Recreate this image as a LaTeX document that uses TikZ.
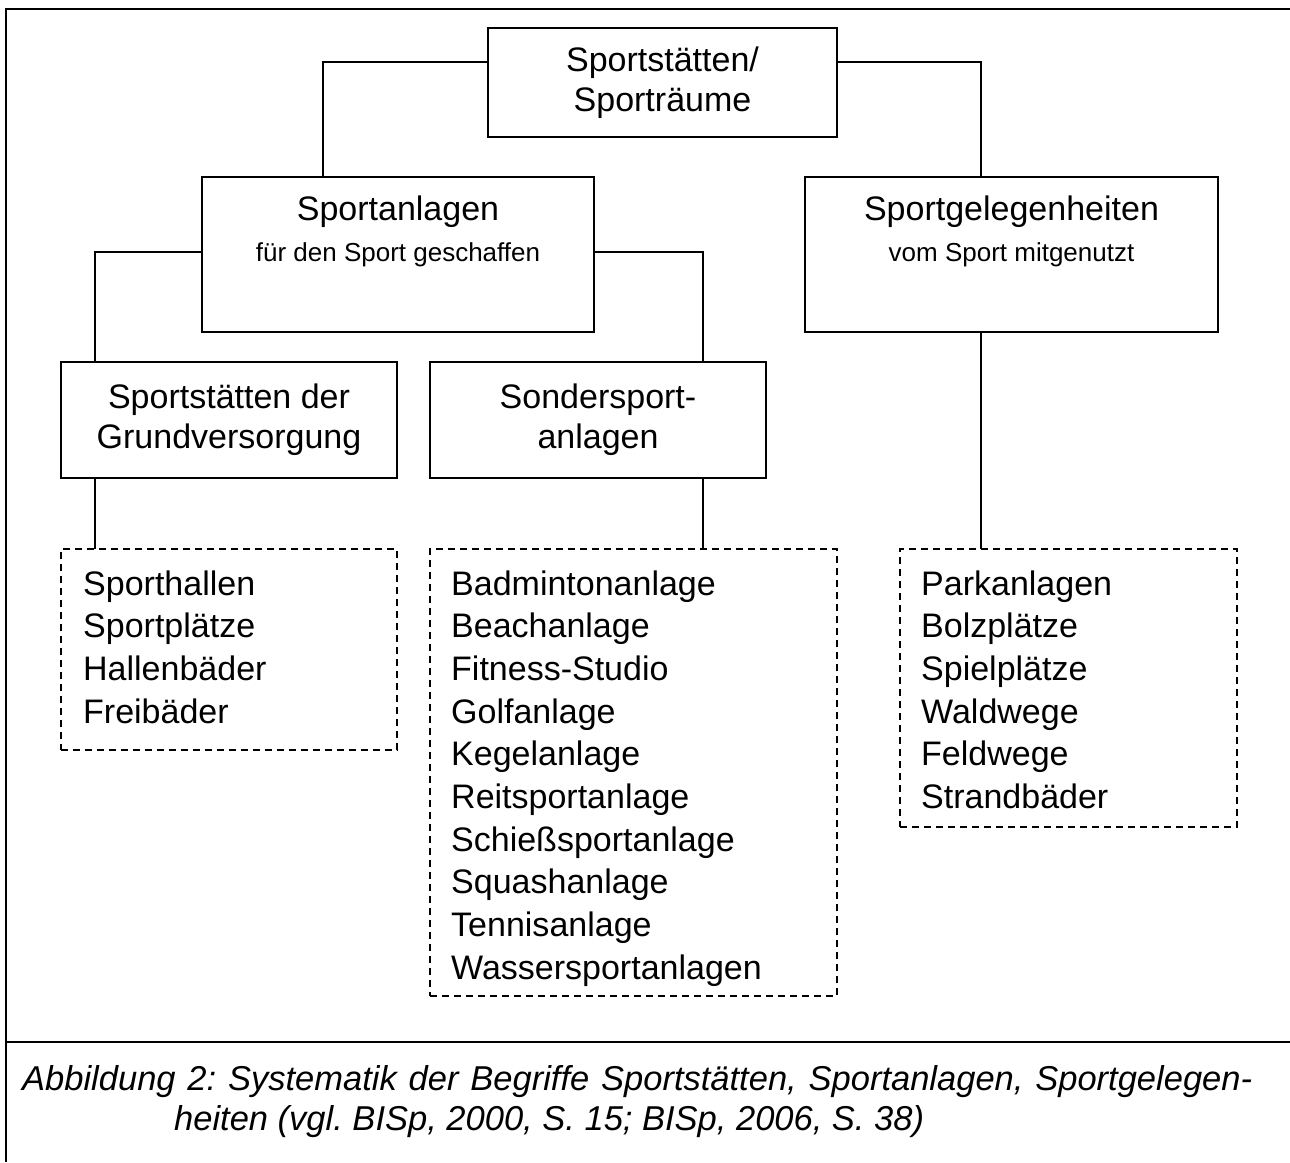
\documentclass[tikz,border=0pt]{standalone}
\usepackage{fontspec}
\setmainfont{Liberation Sans}
\frenchspacing
\begin{document}
\begin{tikzpicture}[x=1pt,y=-1pt,
  box/.style={draw, line width=1.3pt, inner sep=0pt, outer sep=0pt},
  dbox/.style={draw, line width=1.3pt, dash pattern=on 7pt off 5pt, inner sep=0pt, outer sep=0pt},
  conn/.style={draw, line width=1.3pt},
  framestyle/.style={draw, line width=2pt},
  big/.style={font=\fontsize{34}{40}\selectfont, align=center, inner sep=0pt},
  small/.style={font=\fontsize{26}{30}\selectfont, inner sep=0pt},
  item/.style={font=\fontsize{34}{42.7}\selectfont, inner sep=0pt, anchor=base west},
  captext/.style={font=\fontsize{34.5}{42}\selectfont\itshape, inner sep=0pt, anchor=base west}]
\useasboundingbox (0,0) rectangle (1290,1162);
% frame
\draw[framestyle] (1290,9) -- (6,9) -- (6,1162);
\draw[framestyle] (6,1042) -- (1290,1042);
% boxes
\node[box, minimum width=349pt, minimum height=109pt] (top) at (662.5,82.5) {};
\node[box, minimum width=392pt, minimum height=155pt] (sa) at (398,254.5) {};
\node[box, minimum width=413pt, minimum height=155pt] (sg) at (1011.5,254.5) {};
\node[box, minimum width=336pt, minimum height=116pt] (g) at (229,420) {};
\node[box, minimum width=336pt, minimum height=116pt] (so) at (598,420) {};
\node[dbox, minimum width=336pt, minimum height=201pt] (d1) at (229,649.5) {};
\node[dbox, minimum width=407pt, minimum height=447pt] (d2) at (633.5,772.5) {};
\node[dbox, minimum width=337pt, minimum height=278pt] (d3) at (1068.5,688) {};
% connectors
\draw[conn] ([yshift=20.5pt]top.west) -| ([xshift=-75pt]sa.north);
\draw[conn] ([yshift=20.5pt]top.east) -| ([xshift=-30.5pt]sg.north);
\draw[conn] ([yshift=2.5pt]sa.west) -| ([xshift=-134pt]g.north);
\draw[conn] ([yshift=2.5pt]sa.east) -| ([xshift=105pt]so.north);
\draw[conn] ([xshift=-134pt]g.south) -- ([xshift=-134pt]d1.north);
\draw[conn] ([xshift=105pt]so.south) -- ([xshift=69.5pt]d2.north);
\draw[conn] ([xshift=-30.5pt]sg.south) -- ([xshift=-87.5pt]d3.north);
% texts
\node[big] (topt) at (top.center) {Sportstätten/\\Sporträume};
\node[big] (sat) at (398,212) {Sportanlagen};
\node[small] (sas) at (398,255) {für den Sport geschaffen};
\node[big] (sgt) at (1011.5,212) {Sportgelegenheiten};
\node[small] (sgs) at (1011.5,255) {vom Sport mitgenutzt};
\node[big] (gt) at (g.center) {Sportstätten der\\Grundversorgung};
\node[big] (sot) at (so.center) {Sondersport-\\anlagen};
\foreach \t [count=\i] in {Sporthallen, Sportplätze, Hallenbäder, Freibäder}
  \node[item] (a\i) at (83,{595+42.7*(\i-1)}) {\t};
\foreach \t [count=\i] in {Badmintonanlage, Beachanlage, Fitness-Studio, Golfanlage, Kegelanlage, Reitsportanlage, Schießsportanlage, Squashanlage, Tennisanlage, Wassersportanlagen}
  \node[item] (b\i) at (451,{595+42.7*(\i-1)}) {\t};
\foreach \t [count=\i] in {Parkanlagen, Bolzplätze, Spielplätze, Waldwege, Feldwege, Strandbäder}
  \node[item] (c\i) at (921,{595+42.7*(\i-1)}) {\t};
\node[captext] (cap1) at (22,1090) {\makebox[1230pt][s]{Abbildung 2: Systematik der Begriffe Sportstätten, Sportanlagen, Sportgelegen-}};
\node[captext] (cap2) at (174,1130) {heiten (vgl. BISp, 2000, S. 15; BISp, 2006, S. 38)};
\end{tikzpicture}
\end{document}
